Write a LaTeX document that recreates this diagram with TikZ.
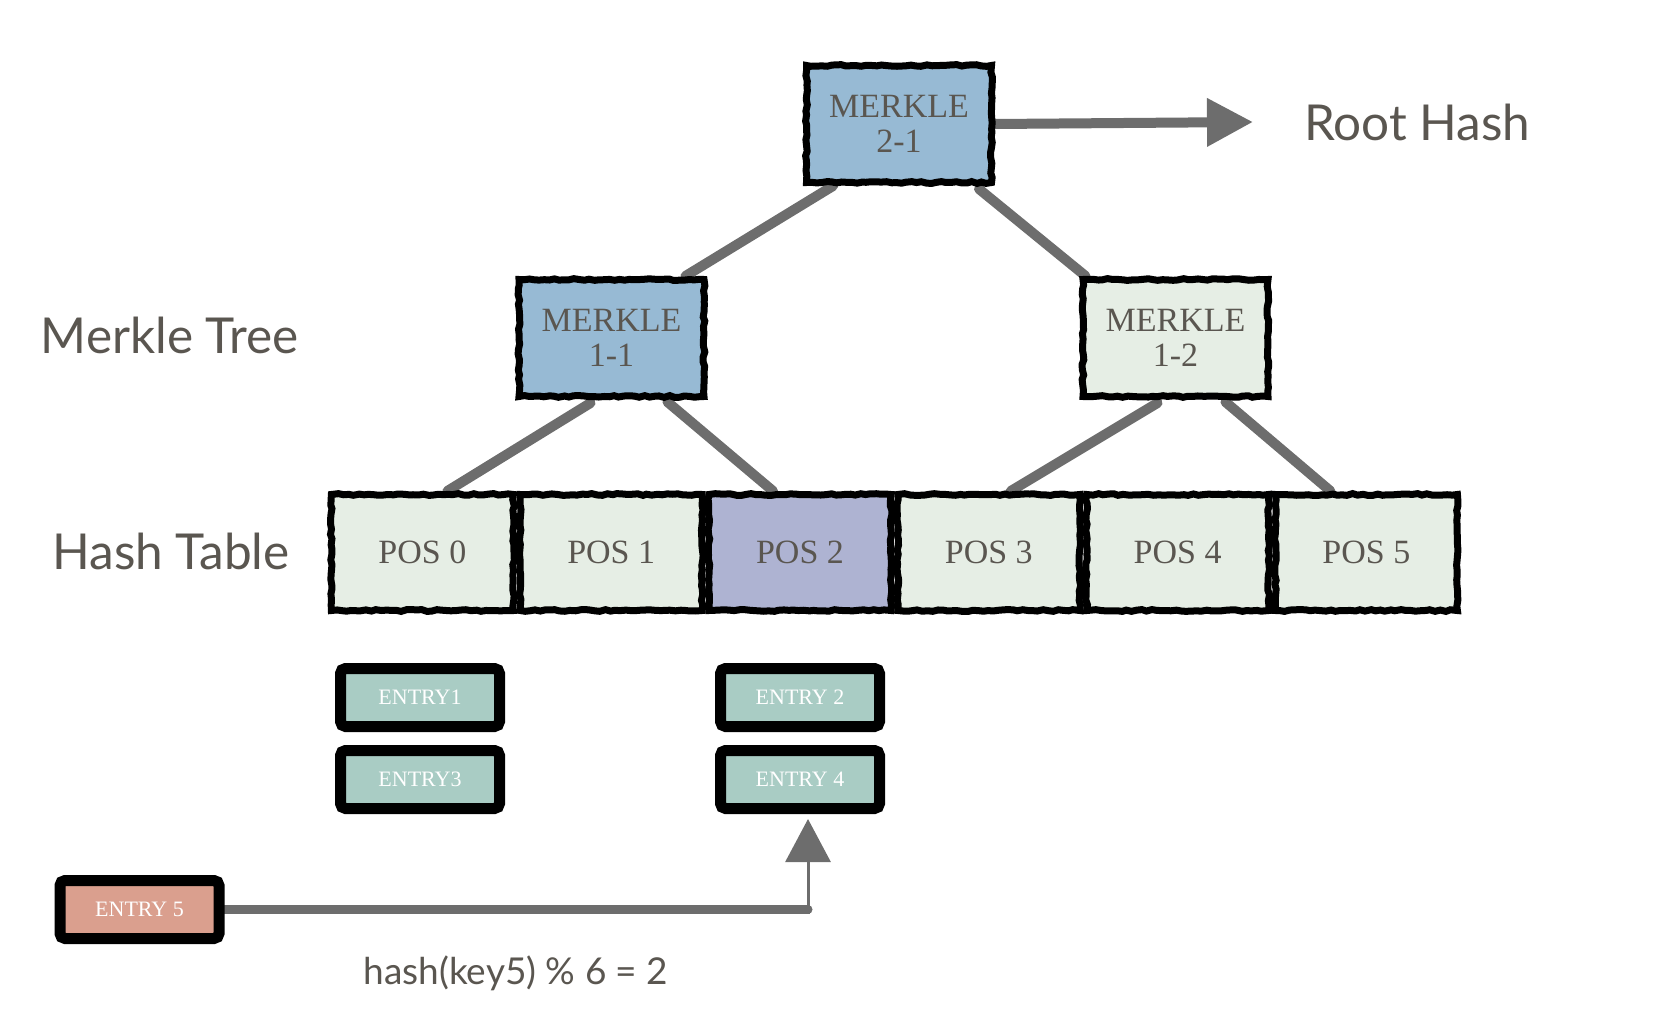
\documentclass[tikz,border=0pt]{standalone}
\usepackage{fontspec}
\setmainfont{Liberation Serif}
\newfontfamily\labelfont{Lato}
\usetikzlibrary{arrows.meta,calc,decorations.pathmorphing,backgrounds}
\definecolor{blueM}{HTML}{97BAD4}
\definecolor{lightG}{HTML}{E6EEE5}
\definecolor{lavP}{HTML}{AEB3D2}
\definecolor{tealE}{HTML}{A9CCC4}
\definecolor{salmonE}{HTML}{DA9F8E}
\definecolor{connG}{HTML}{6D6D6D}
\definecolor{txtG}{HTML}{5A5650}
\tikzset{
  mbox/.style={draw=black, line width=7pt, minimum width=185pt, minimum height=117pt,
    inner sep=0pt, align=center, text=txtG, font=\fontsize{34}{35}\selectfont,
    decoration={random steps, segment length=5pt, amplitude=0.9pt}, decorate},
  posbox/.style={mbox, minimum width=182pt, minimum height=116pt},
  entrybox/.style={draw=black, line width=11pt, rounded corners=5pt, minimum width=159pt,
    minimum height=58pt, inner sep=0pt, text=white, font=\fontsize{22}{24}\selectfont, fill=tealE},
  sidelabel/.style={text=txtG, font=\labelfont\fontsize{49.5}{51}\selectfont, inner sep=0pt},
  conn/.style={draw=connG, line width=10pt, line cap=round},
}
\begin{document}
\begin{tikzpicture}[x=1pt,y=-1pt]
\pgfmathsetseed{7}
\useasboundingbox (0,0) rectangle (1668,1016);
% Merkle nodes
\node[mbox, fill=blueM] (m21) at (899,124) {MERKLE\\2-1};
\node[mbox, fill=blueM] (m11) at (611.5,338) {MERKLE\\1-1};
\node[mbox, fill=lightG] (m12) at (1175.5,338) {MERKLE\\1-2};
% Hash table
\node[posbox, fill=lightG] (p0) at (422.4,552.5) {POS 0};
\node[posbox, fill=lightG] (p1) at (611.2,552.5) {POS 1};
\node[posbox, fill=lavP] (p2) at (800,552.5) {POS 2};
\node[posbox, fill=lightG] (p3) at (988.8,552.5) {POS 3};
\node[posbox, fill=lightG] (p4) at (1177.6,552.5) {POS 4};
\node[posbox, fill=lightG] (p5) at (1366.4,552.5) {POS 5};
% Entries
\node[entrybox] (e1) at (420,697.5) {ENTRY1};
\node[entrybox] (e3) at (420,779.5) {ENTRY3};
\node[entrybox] (e2) at (800,697.5) {ENTRY 2};
\node[entrybox] (e4) at (800,779.5) {ENTRY 4};
\node[entrybox, fill=salmonE] (e5) at (139.5,909.5) {ENTRY 5};
% Labels
\node[sidelabel, anchor=west] (root) at (1304,122) {Root Hash};
\node[sidelabel] (mt) at (170,335) {Merkle Tree};
\node[sidelabel] (ht) at (171,551) {Hash Table};
\node[text=txtG, font=\labelfont\fontsize{37}{39}\selectfont, inner sep=0pt] (hf) at (516,973) {hash(key5) \% 6 = 2};
% Connectors
\begin{scope}[on background layer]
\draw[conn] ($(m21.south west)+(30,0)$) -- ($(m11.north east)+(-22,0)$);
\draw[conn] ($(m21.south east)+(-16,3)$) -- ($(m12.north west)+(6,0)$);
\draw[conn] ($(m11.south)+(-21,3)$) -- ($(p0.north)+(25,0)$);
\draw[conn] ($(m11.south)+(56,2)$) -- ($(p2.north)+(-27,0)$);
\draw[conn] ($(m12.south)+(-18,3)$) -- ($(p3.north)+(22,0)$);
\draw[conn] ($(m12.south)+(50,2)$) -- ($(p5.north)+(-36,0)$);
\draw[conn, line cap=butt, -{Triangle[length=46pt,width=46pt]}] (m21.east) -- ($(root.west)+(-51,0)$);
\coordinate (bendx) at ($(e4.south)+(8,0)$);
\coordinate (bend) at (bendx |- e5.east);
\draw[draw=connG, line width=9pt, line cap=round] (e5.east) -- (bend);
\draw[draw=connG, line width=3pt, -{Triangle[length=43pt,width=45pt]}, shorten >=5pt] ($(bend)+(0,4)$) -- (bendx);
\end{scope}
\end{tikzpicture}
\end{document}
